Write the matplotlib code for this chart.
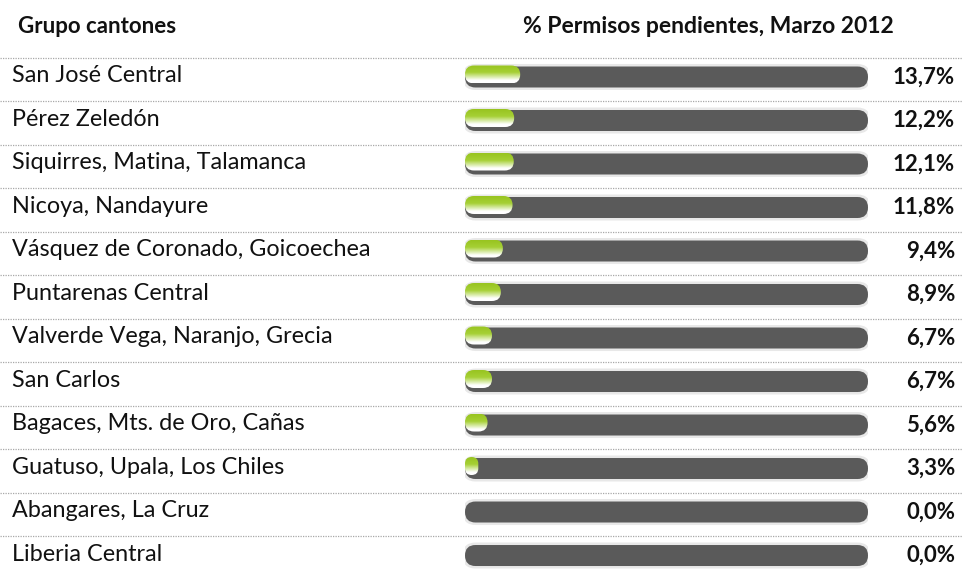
import numpy as np
import matplotlib
matplotlib.use("Agg")
import matplotlib.pyplot as plt
from matplotlib.patches import FancyBboxPatch
from matplotlib.lines import Line2D
from matplotlib.colors import LinearSegmentedColormap
from matplotlib.transforms import blended_transform_factory

plt.rcParams['font.family'] = ['Lato', 'DejaVu Sans']

# data
cantones = ["San José Central", "Pérez Zeledón", "Siquirres, Matina, Talamanca",
            "Nicoya, Nandayure", "Vásquez de Coronado, Goicoechea", "Puntarenas Central",
            "Valverde Vega, Naranjo, Grecia", "San Carlos", "Bagaces, Mts. de Oro, Cañas",
            "Guatuso, Upala, Los Chiles", "Abangares, La Cruz", "Liberia Central"]
pendientes = [13.7, 12.2, 12.1, 11.8, 9.4, 8.9, 6.7, 6.7, 5.6, 3.3, 0.0, 0.0]
etiquetas = ["13,7%", "12,2%", "12,1%", "11,8%", "9,4%", "8,9%",
             "6,7%", "6,7%", "5,6%", "3,3%", "0,0%", "0,0%"]
titulo_izq = "Grupo cantones"
titulo_der = "% Permisos pendientes, Marzo 2012"

W, H = 963, 569
fig = plt.figure(figsize=(W / 100, H / 100), dpi=100)
fig.patch.set_facecolor('white')

# axes holding the bar track (0-100 %)
ax = fig.add_axes([465 / W, 0, 403 / W, 1])
ax.set_xlim(0, 100)
ax.set_ylim(11.31, -1.77)
ax.axis('off')

px_x = 403 / 100.0          # pixels per percent
px_y = H / (11.31 + 1.77)   # pixels per row
aspect = px_x / px_y

trans_lab = blended_transform_factory(fig.transFigure, ax.transData)

green = LinearSegmentedColormap.from_list(
    "verde", [(0, '#98c420'), (0.4, '#a6d035'), (0.85, '#ffffff'), (1, '#ffffff')])
grad = np.linspace(0, 1, 64)[:, None]

h_track = 21 / px_y
h_green = 18 / px_y
r_track = 10.5 / px_x

for i, (nombre, v, lab) in enumerate(zip(cantones, pendientes, etiquetas)):
    # separator
    ysep = i - 0.5 + 2.5 / px_y
    fig.add_artist(Line2D([0, 1], [ysep, ysep], transform=trans_lab,
                          color='#a8a8a8', lw=0.9, linestyle=(0, (1, 1))))
    # halo
    halo = FancyBboxPatch((-0.6, i - h_track / 2 - 2.5 / px_y), 101.2, h_track + 5 / px_y,
                          boxstyle="round,pad=0,rounding_size=%f" % (13 / px_x),
                          mutation_aspect=aspect, fc='#e8e8e8', ec='none', zorder=1)
    ax.add_patch(halo)
    # track
    track = FancyBboxPatch((0, i - h_track / 2), 100, h_track,
                           boxstyle="round,pad=0,rounding_size=%f" % r_track,
                           mutation_aspect=aspect, fc='#5a5a5a', ec='none', zorder=2)
    ax.add_patch(track)
    # green value
    if v > 0:
        yc = i - 2.5 / px_y
        r = min(9 / px_x, v / 2)
        barra = FancyBboxPatch((0, yc - h_green / 2), v, h_green,
                               boxstyle="round,pad=0,rounding_size=%f" % r,
                               mutation_aspect=aspect, fc='none', ec='none', zorder=3)
        ax.add_patch(barra)
        im = ax.imshow(grad, cmap=green, extent=(0, v, yc + h_green / 2, yc - h_green / 2),
                       origin='upper', aspect='auto', zorder=3, interpolation='bilinear')
        im.set_clip_path(barra)
    # texts
    ax.text(12 / W, i - 0.03, nombre, transform=trans_lab, ha='left', va='center',
            fontsize=16.8, color='#111111')
    ax.text(955 / W, i, lab, transform=trans_lab, ha='right', va='center',
            fontsize=16, fontweight='bold', color='#111111')

ax.set_xlim(0, 100)
ax.set_ylim(11.31, -1.77)

ax.text(18 / W, (27 - 77) / px_y, titulo_izq, transform=trans_lab, ha='left', va='center',
        fontsize=16, fontweight='bold', color='#111111')
ax.text(708 / W, (27 - 77) / px_y, titulo_der, transform=trans_lab, ha='center', va='center',
        fontsize=16.5, fontweight='bold', color='#111111')

fig.savefig("out.png", dpi=100, facecolor='white')
